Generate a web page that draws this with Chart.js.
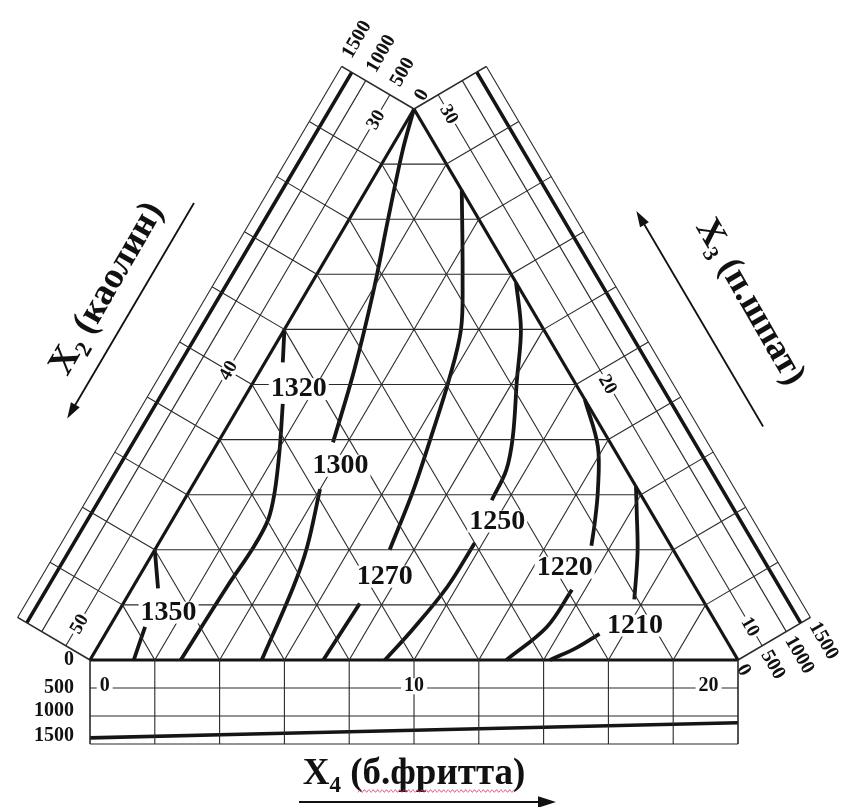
<!DOCTYPE html>
<html>
<head>
<meta charset="utf-8">
<script src="https://cdn.jsdelivr.net/npm/chart.js@4.4.1/dist/chart.umd.min.js"></script>
<style>
  html, body { margin: 0; padding: 0; background: #fff; }
  #c { display: block; }
</style>
</head>
<body>
<canvas id="c" width="847" height="807"></canvas>
<script>
// ---------------------------------------------------------------------------
// Ternary diagram X2 (kaolin) – X3 (feldspar) – X4 (frit), X2 + X3 + X4 = 60 %
// with isotherms of the firing temperature and three edge property bands.
// ---------------------------------------------------------------------------

// Edge tick labels (%)
const X2_TICKS = [30, 40, 50];
const X3_TICKS = [30, 20, 10];
const X4_TICKS = [0, 10, 20];
// Property band scale
const BAND_TICKS = [0, 500, 1000, 1500];

// Isotherms: X4 and X3 (%) along each curve, null marks the gap for the label
const ISO_VALUES = [1350, 1320, 1300, 1270, 1250, 1220, 1210];
const iso1350_X4 = [0.0, 0.8, null, 1.1, 1.35];
const iso1350_X3 = [14.0, 12.6, null, 11.2, 10.0];
const iso1320_X4 = [0.0, 0.55, null, 1.3, 2.05, 2.65, 2.95, 3.0, 2.9, 2.8];
const iso1320_X3 = [22.0, 20.8, null, 19.3, 17.6, 16.1, 15.1, 14.1, 12.65, 10.0];
const iso1300_X4 = [0.0, 0.4, 1.2, 2.05, 2.9, 3.55, null, 4.0, 4.65, 4.95, 5.3];
const iso1300_X3 = [30.0, 28.5, 26.0, 23.4, 20.5, 17.9, null, 16.2, 14.1, 12.65, 10.0];
const iso1270_X4 = [2.95, 4.6, 5.45, 6.0, 6.5, 6.9, 7.25, null, 7.3, 7.2];
const iso1270_X3 = [27.05, 23.8, 22.0, 20.15, 18.0, 16.15, 14.0, null, 12.05, 10.0];
const iso1250_X4 = [6.3, 7.3, 8.1, 9.0, 9.4, 9.5, null, 9.75, 9.7, 9.4, 9.1];
const iso1250_X3 = [23.7, 22.0, 20.15, 18.1, 16.9, 15.8, null, 14.25, 12.65, 11.1, 10.0];
const iso1220_X4 = [10.55, 11.8, 12.6, 13.1, 13.4, null, 13.6, 13.5, 12.85];
const iso1220_X3 = [19.45, 17.75, 16.15, 14.95, 14.15, null, 12.55, 11.2, 10.0];
const iso1210_X4 = [13.7, 14.2, 14.95, 15.7, null, 15.25, 14.8, 14.2];
const iso1210_X3 = [16.3, 15.35, 13.9, 12.2, null, 10.95, 10.45, 10.0];

// Property curves in the edge bands (band scale 0..1500)
const leftBand_X2 = [30, 40, 50];
const leftBand_val = [1290, 1300, 1310];
const rightBand_X3 = [30, 20, 10];
const rightBand_val = [1300, 1300, 1300];
const bottomBand_X4 = [0, 10, 20];
const bottomBand_val = [1390, 1255, 1120];

// ---------------------------------------------------------------------------
const W = 847, H = 807;
const XMIN = -2.778, XMAX = 23.364, YMIN = -5.336, YMAX = 23.956;
const KX = W / (XMAX - XMIN), KY = H / (YMAX - YMIN);   // px per unit
const BAND_W = 84;                                          // band depth, px

// composition -> cartesian (triangle side = 20 units)
function tern(x4, x3) { return { x: x4 + (x3 - 10) / 2, y: x3 - 10 }; }
const VT = tern(0, 30), VL = tern(0, 10), VR = tern(20, 10);

function edgeFrame(A, B, sign) {
  const dx = (B.x - A.x) * KX, dy = -(B.y - A.y) * KY;
  const L = Math.hypot(dx, dy);
  const ux = dx / L, uy = dy / L;
  return { A, B, ux, uy, nx: -uy * sign, ny: ux * sign };
}
const FL = edgeFrame(VT, VL, 1);    // X2: 30 -> 50
const FR = edgeFrame(VT, VR, -1);   // X3: 30 -> 10
const FB = edgeFrame(VL, VR, 1);    // X4: 0 -> 20

function bandPt(F, t, v) {
  const d = v / 1500 * BAND_W;
  return {
    x: F.A.x + t * (F.B.x - F.A.x) + F.nx * d / KX,
    y: F.A.y + t * (F.B.y - F.A.y) - F.ny * d / KY
  };
}
const tLeft = x2 => (x2 - 30) / 20;
const tRight = x3 => (30 - x3) / 20;
const tBottom = x4 => x4 / 20;

// ---------------------------------------------------------------------------
const datasets = [];
const INK = '#151515';
function addLine(points, width, color, tension) {
  datasets.push({
    data: points, showLine: true, borderColor: color || INK, borderWidth: width,
    pointRadius: 0, tension: tension || 0, fill: false, clip: false
  });
}

// inner grid, step 2 %
for (let k = 1; k < 10; k++) {
  const f = k / 10;
  const x3 = 10 + 20 * f;
  addLine([tern(0, x3), tern(30 - x3, x3)], 1.1, '#2a2a2a');
  const x4 = 20 * f;
  addLine([tern(x4, 10), tern(x4, 30 - x4)], 1.1, '#2a2a2a');
  const x2 = 30 + 20 * f;
  addLine([tern(50 - x2, 10), tern(0, 60 - x2)], 1.1, '#2a2a2a');
}

// edge bands
[FL, FR, FB].forEach(F => {
  [500, 1000, 1500].forEach(v => addLine([bandPt(F, 0, v), bandPt(F, 1, v)], 1.1, '#2a2a2a'));
  for (let k = 0; k <= 10; k++) {
    const t = k / 10;
    const w = (k === 0 || k === 10) ? 1.6 : 1.1;
    addLine([bandPt(F, t, 0), bandPt(F, t, 1500)], w, '#2a2a2a');
  }
});

// triangle
addLine([VL, VR], 3.2);
addLine([VL, VT], 3.2);
addLine([VT, VR], 3.2);

// band property curves
addLine(leftBand_X2.map((x2, i) => bandPt(FL, tLeft(x2), leftBand_val[i])), 3.6, INK, 0.3);
addLine(rightBand_X3.map((x3, i) => bandPt(FR, tRight(x3), rightBand_val[i])), 3.6, INK, 0.3);
addLine(bottomBand_X4.map((x4, i) => bandPt(FB, tBottom(x4), bottomBand_val[i])), 3.6, INK, 0.3);

// isotherms
const ISO_SERIES = [
  [iso1350_X4, iso1350_X3], [iso1320_X4, iso1320_X3], [iso1300_X4, iso1300_X3],
  [iso1270_X4, iso1270_X3], [iso1250_X4, iso1250_X3], [iso1220_X4, iso1220_X3],
  [iso1210_X4, iso1210_X3]
];
const isoGaps = [];
ISO_SERIES.forEach(([xs4, xs3]) => {
  let piece = [];
  xs4.forEach((x4, i) => {
    if (x4 === null) {
      addLine(piece, 3.8, INK, 0.35);
      isoGaps.push([piece[piece.length - 1], tern(xs4[i + 1], xs3[i + 1])]);
      piece = [];
    } else {
      piece.push(tern(x4, xs3[i]));
    }
  });
  addLine(piece, 3.8, INK, 0.35);
});

// ---------------------------------------------------------------------------
const SERIF = "'Liberation Serif', 'DejaVu Serif', serif";

function drawText(ctx, s, x, y, o) {
  ctx.save();
  ctx.translate(x, y);
  ctx.rotate((o.rot || 0) * Math.PI / 180);
  ctx.font = o.font;
  ctx.textAlign = o.align || 'center';
  ctx.textBaseline = 'middle';
  if (o.bg) {
    const w = ctx.measureText(s).width;
    const x0 = o.align === 'left' ? 0 : o.align === 'right' ? -w : -w / 2;
    ctx.fillStyle = '#fff';
    ctx.fillRect(x0 - o.bg, -o.bgH / 2, w + 2 * o.bg, o.bgH);
  }
  ctx.fillStyle = '#111';
  ctx.fillText(s, 0, 0);
  ctx.restore();
}

function arrow(ctx, x1, y1, x2, y2, head) {
  const a = Math.atan2(y2 - y1, x2 - x1);
  ctx.save();
  ctx.strokeStyle = '#111';
  ctx.fillStyle = '#111';
  ctx.lineWidth = 1.8;
  ctx.beginPath();
  ctx.moveTo(x1, y1);
  ctx.lineTo(x2 - Math.cos(a) * head * 0.6, y2 - Math.sin(a) * head * 0.6);
  ctx.stroke();
  ctx.beginPath();
  ctx.moveTo(x2, y2);
  ctx.lineTo(x2 - Math.cos(a) * head - Math.sin(a) * head * 0.32,
             y2 - Math.sin(a) * head + Math.cos(a) * head * 0.32);
  ctx.lineTo(x2 - Math.cos(a) * head + Math.sin(a) * head * 0.32,
             y2 - Math.sin(a) * head - Math.cos(a) * head * 0.32);
  ctx.closePath();
  ctx.fill();
  ctx.restore();
}

// composite title: main letter, subscript, rest
function drawTitle(ctx, cx, cy, rot, main, sub, rest, size) {
  ctx.save();
  ctx.translate(cx, cy);
  ctx.rotate(rot * Math.PI / 180);
  const fMain = `bold ${size}px ${SERIF}`, fSub = `bold ${Math.round(size * 0.62)}px ${SERIF}`;
  ctx.font = fMain; const w1 = ctx.measureText(main).width, w3 = ctx.measureText(rest).width;
  ctx.font = fSub; const w2 = ctx.measureText(sub).width;
  let x = -(w1 + w2 + w3) / 2;
  ctx.fillStyle = '#111';
  ctx.textBaseline = 'alphabetic';
  ctx.textAlign = 'left';
  const base = size * 0.33;
  ctx.font = fMain; ctx.fillText(main, x, base); x += w1;
  ctx.font = fSub; ctx.fillText(sub, x, base + size * 0.2); x += w2;
  ctx.font = fMain; ctx.fillText(rest, x, base);
  ctx.restore();
}

const annotations = {
  id: 'annotations',
  afterDatasetsDraw(chart) {
    const ctx = chart.ctx;
    const sx = chart.scales.x, sy = chart.scales.y;
    const P = d => [sx.getPixelForValue(d.x), sy.getPixelForValue(d.y)];

    // isotherm labels
    const nudge = { 1350: [17, 5], 1320: [16, 6], 1300: [14, 0], 1270: [10, 0],
                    1250: [14, 0], 1220: [-17, 0], 1210: [18, 9] };
    ISO_VALUES.forEach((v, i) => {
      const [a, b] = isoGaps[i];
      const pa = P(a), pb = P(b);
      const n = nudge[v];
      drawText(ctx, String(v), (pa[0] + pb[0]) / 2 + n[0], (pa[1] + pb[1]) / 2 + n[1],
        { font: `bold 28px ${SERIF}`, bg: 2, bgH: 22 });
    });

    const fTick = `bold 19px ${SERIF}`;
    // edge tick labels on the 500 line of each band
    [0.045, 0.5, 0.96].forEach((t, i) => {
      const p = P(bandPt(FL, t, 480));
      drawText(ctx, String(X2_TICKS[i]), p[0], p[1], { font: fTick, rot: -60, bg: 2, bgH: 16 });
    });
    [0.035, 0.525, 0.965].forEach((t, i) => {
      const p = P(bandPt(FR, t, 480));
      drawText(ctx, String(X3_TICKS[i]), p[0], p[1], { font: fTick, rot: 60, bg: 2, bgH: 16 });
    });
    const fBand = `bold 20px ${SERIF}`;
    [0.015, 0.5, 0.97].forEach((t, i) => {
      const p = P(bandPt(FB, t, 470));
      drawText(ctx, String(X4_TICKS[i]), p[0], p[1],
        { font: fBand, align: ['left', 'center', 'right'][i], bg: 3, bgH: 16 });
    });

    // band scale labels
    BAND_TICKS.forEach((v, i) => {
      const p = P(bandPt(FB, 0, v));
      const dy = [0, 0, -5, -8][i];
      drawText(ctx, String(v), p[0] - 16, p[1] + dy, { font: fBand, align: 'right' });
    });
    const cL = Math.cos(-Math.PI / 3), sL = Math.sin(-Math.PI / 3);
    BAND_TICKS.forEach(v => {
      const p = P(bandPt(FL, 0, v));
      drawText(ctx, String(v), p[0] + cL * 11, p[1] + sL * 11,
        { font: fBand, rot: -60, align: 'left' });
    });
    BAND_TICKS.forEach(v => {
      const p = P(bandPt(FR, 1, v));
      drawText(ctx, String(v), p[0] + 3, p[1] + 6, { font: fBand, rot: 60, align: 'left' });
    });

    // axis titles and arrows
    const pT = P(VT), pL = P(VL), pR = P(VR);
    const mL = [(pT[0] + pL[0]) / 2, (pT[1] + pL[1]) / 2];
    const mR = [(pT[0] + pR[0]) / 2, (pT[1] + pR[1]) / 2];
    const uL = [FL.ux, FL.uy], nL = [FL.nx, FL.ny];
    const uR = [FR.ux, FR.uy], nR = [FR.nx, FR.ny];

    let c = [mL[0] + nL[0] * 142 - uL[0] * 2, mL[1] + nL[1] * 142 - uL[1] * 2];
    arrow(ctx, c[0] - uL[0] * 125, c[1] - uL[1] * 125, c[0] + uL[0] * 125, c[1] + uL[1] * 125, 16);
    c = [mL[0] + nL[0] * 176 - uL[0] * 9, mL[1] + nL[1] * 176 - uL[1] * 9];
    drawTitle(ctx, c[0], c[1], -60, 'X', '2', ' (каолин)', 37);

    c = [mR[0] + nR[0] * 140 + uR[0] * 6, mR[1] + nR[1] * 140 + uR[1] * 6];
    arrow(ctx, c[0] + uR[0] * 125, c[1] + uR[1] * 125, c[0] - uR[0] * 125, c[1] - uR[1] * 125, 16);
    c = [mR[0] + nR[0] * 194 + uR[0] * 17, mR[1] + nR[1] * 194 + uR[1] * 17];
    drawTitle(ctx, c[0], c[1], 60, 'X', '3', ' (п.шпат)', 36);

    const mB = (pL[0] + pR[0]) / 2;
    drawTitle(ctx, mB, pL[1] + 112, 0, 'X', '4', ' (б.фритта)', 37);
    arrow(ctx, mB - 115, pL[1] + 142, mB + 142, pL[1] + 142, 18);

    // spell-check squiggle under the frit label
    ctx.save();
    ctx.strokeStyle = 'rgba(215,60,95,0.75)';
    ctx.lineWidth = 1;
    ctx.beginPath();
    for (let x = mB - 56; x <= mB + 100; x += 1) {
      const y = pL[1] + 131 + Math.sin((x - mB) * Math.PI / 2.2) * 1.4;
      if (x === mB - 56) ctx.moveTo(x, y); else ctx.lineTo(x, y);
    }
    ctx.stroke();
    ctx.restore();
  }
};

new Chart(document.getElementById('c'), {
  type: 'scatter',
  data: { datasets },
  options: {
    responsive: false,
    animation: false,
    events: [],
    layout: { padding: 0 },
    plugins: { legend: { display: false }, tooltip: { enabled: false }, title: { display: false } },
    scales: {
      x: { type: 'linear', min: XMIN, max: XMAX, display: false },
      y: { type: 'linear', min: YMIN, max: YMAX, display: false }
    }
  },
  plugins: [annotations]
});
</script>
</body>
</html>
